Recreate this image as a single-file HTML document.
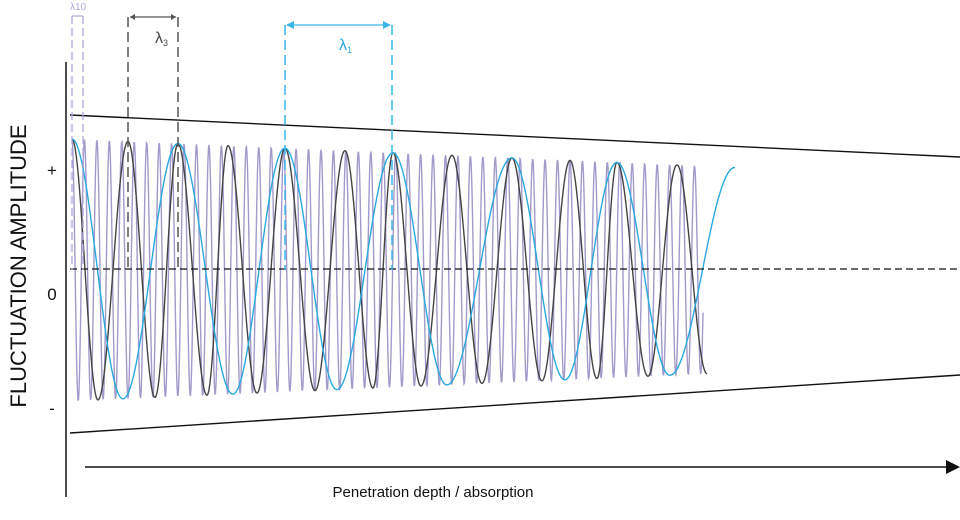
<!DOCTYPE html>
<html><head><meta charset="utf-8"><style>
html,body{margin:0;padding:0;background:#fff;}
svg{display:block;}
text{font-family:"Liberation Sans",sans-serif;}
</style></head><body>
<svg id="s" width="960" height="520" viewBox="0 0 960 520" xmlns="http://www.w3.org/2000/svg">
<path id="lav" fill="none" stroke="#a09bca" stroke-width="1.4"/>
<path id="blk" fill="none" stroke="#444" stroke-width="1.4"/>
<path id="blu" fill="none" stroke="#29a9e0" stroke-width="1.4"/>
<line x1="70" y1="115" x2="960" y2="157" stroke="#111" stroke-width="1.4"/>
<line x1="70" y1="433" x2="960" y2="375" stroke="#111" stroke-width="1.4"/>
<line x1="70" y1="269" x2="960" y2="269" stroke="#111" stroke-width="1.2" stroke-dasharray="7,4"/>
<line x1="66" y1="62" x2="66" y2="497" stroke="#111" stroke-width="1.5"/>
<line x1="85" y1="467" x2="946" y2="467" stroke="#111" stroke-width="1.5"/>
<polygon points="946,460 960,467 946,474" fill="#111"/>
<g stroke="#b0a8d8" stroke-width="1.3" fill="none" stroke-dasharray="8,4">
<line x1="72" y1="16" x2="72" y2="270"/><line x1="83" y1="16" x2="83" y2="270"/>
</g>
<line x1="72" y1="16" x2="83" y2="16" stroke="#b0a8d8" stroke-width="1.2"/>
<text x="78" y="10" font-size="10" fill="#b0a8d8" text-anchor="middle">λ10</text>
<g stroke="#555" stroke-width="1.5" fill="none" stroke-dasharray="10,5">
<line x1="128" y1="17" x2="128" y2="270"/><line x1="178" y1="17" x2="178" y2="270"/>
</g>
<line x1="130" y1="17" x2="176" y2="17" stroke="#555" stroke-width="1.2"/>
<polygon points="130,17 135,14 135,20" fill="#555"/><polygon points="176,17 171,14 171,20" fill="#555"/>
<text x="155" y="43" font-size="16" fill="#444">λ<tspan font-size="9" dy="3">3</tspan></text>
<g stroke="#3ab6e8" stroke-width="1.5" fill="none" stroke-dasharray="10,5">
<line x1="285" y1="25" x2="285" y2="270"/><line x1="392" y1="25" x2="392" y2="270"/>
</g>
<line x1="287" y1="25" x2="390" y2="25" stroke="#3ab6e8" stroke-width="1.3"/>
<polygon points="286,25 294,21 294,29" fill="#3ab6e8"/><polygon points="391,25 383,21 383,29" fill="#3ab6e8"/>
<text x="339" y="50" font-size="16" fill="#29a9e0">λ<tspan font-size="9" dy="3">1</tspan></text>
<text x="52" y="176" font-size="17" fill="#111" text-anchor="middle">+</text>
<text x="52" y="300" font-size="17" fill="#111" text-anchor="middle">0</text>
<text x="52" y="414" font-size="17" fill="#111" text-anchor="middle">-</text>
<text transform="translate(26,266) rotate(-90)" font-size="22" fill="#111" text-anchor="middle">FLUCTUATION AMPLITUDE</text>
<text x="433" y="497" font-size="15" fill="#111" text-anchor="middle">Penetration depth / absorption</text>
</svg>
<script>
function amp(x){return 131-27*(x-72)/(700-72);}
function wave(id,period,x0,x1){
 var d="";for(var x=x0;x<=x1;x+=0.5){var y=270-amp(x)*Math.cos(2*Math.PI*(x-72)/period);d+=(x==x0?"M":"L")+x.toFixed(1)+","+y.toFixed(1);}
 document.getElementById(id).setAttribute("d",d);}
function ext(id,xs,startSign,xend){
 // xs: extrema positions alternating, starting with sign startSign (1=peak)
 var d="",first=true;
 for(var i=0;i<xs.length;i++){
  var a=xs[i],b=(i+1<xs.length)?xs[i+1]:a+(a-xs[i-1]);
  var s=(i%2==0)?startSign:-startSign;
  var lim=(i+1<xs.length)?b:xend;
  for(var x=a;x<=lim;x+=0.5){
   var t=(x-a)/(b-a);var c=Math.cos(Math.PI*t)*s;
   var y=270-amp(x)*c;
   d+=(first?"M":"L")+x.toFixed(1)+","+y.toFixed(1);first=false;}
 }
 document.getElementById(id).setAttribute("d",d);
}
wave("lav",12.45,72,703);
ext("blk",[72,98,128,155,178,207,228,257,285,315,345,373,393,421,452,482,512,542,570,597,617,648,677,707],1,706);
ext("blu",[72,123,178,233,285,337,393,447,512,565,617,670,735],1,725);
</script>
</body></html>
